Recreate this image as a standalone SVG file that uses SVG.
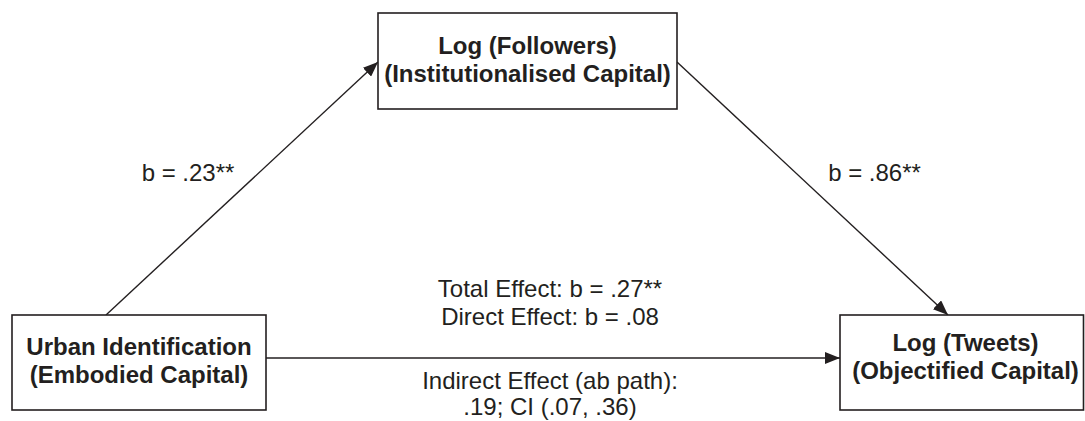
<svg xmlns="http://www.w3.org/2000/svg" width="1085" height="421" viewBox="0 0 1085 421">
<style>
.box{fill:#fff;stroke:#231f20;stroke-width:1.6}
.lbl{font-family:"Liberation Sans",Arial,sans-serif;font-size:24px;font-weight:bold;fill:#231f20;text-anchor:middle}
.txt{font-family:"Liberation Sans",Arial,sans-serif;font-size:24px;fill:#231f20;text-anchor:middle}
.edge{stroke:#231f20;stroke-width:1.4;fill:none;marker-end:url(#ah)}
</style>
<defs>
<marker id="ah" markerUnits="userSpaceOnUse" markerWidth="16" markerHeight="12" refX="15" refY="6" orient="auto">
<path d="M0,0 L15,6 L0,12 Z" fill="#231f20"/>
</marker>
</defs>
<rect width="1085" height="421" fill="#fff"/>
<g id="connectors">
<line class="edge" x1="106" y1="315" x2="378" y2="62"/>
<line class="edge" x1="677" y1="62" x2="948" y2="315"/>
<line class="edge" x1="266" y1="358" x2="840" y2="358"/>
</g>
<g id="node-followers">
<rect class="box" x="378" y="13" width="299" height="96"/>
<text class="lbl" x="527.5" y="54">Log (Followers)</text>
<text class="lbl" x="527.5" y="82">(Institutionalised Capital)</text>
</g>
<g id="node-urban">
<rect class="box" x="12" y="315" width="254" height="95"/>
<text class="lbl" x="139" y="355">Urban Identification</text>
<text class="lbl" x="139" y="383">(Embodied Capital)</text>
</g>
<g id="node-tweets">
<rect class="box" x="840" y="315" width="243.5" height="95"/>
<text class="lbl" x="965.5" y="351">Log (Tweets)</text>
<text class="lbl" x="965.5" y="379">(Objectified Capital)</text>
</g>
<g id="labels">
<text class="txt" x="188" y="181">b = .23**</text>
<text class="txt" x="874.5" y="181">b = .86**</text>
<text class="txt" x="550" y="297">Total Effect: b = .27**</text>
<text class="txt" x="550" y="325">Direct Effect: b = .08</text>
<text class="txt" x="550" y="389">Indirect Effect (ab path):</text>
<text class="txt" x="550" y="415">.19; CI (.07, .36)</text>
</g>
</svg>
